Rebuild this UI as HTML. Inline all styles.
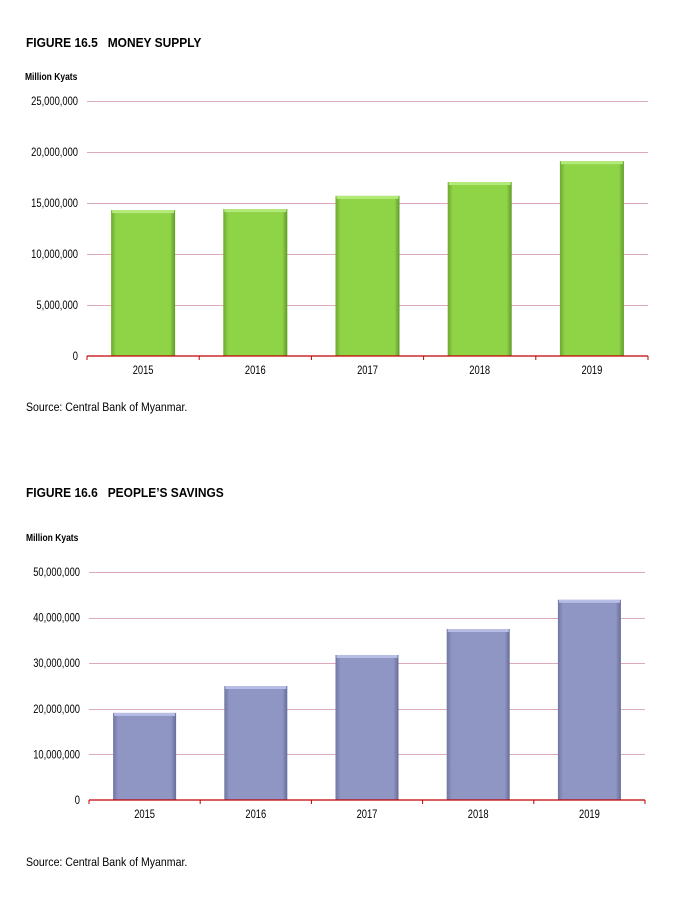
<!DOCTYPE html>
<html><head><meta charset="utf-8"><style>
body{margin:0;background:#fff;width:686px;height:911px;overflow:hidden;font-family:"Liberation Sans",sans-serif}
svg{position:absolute;left:0;top:0}
</style></head><body>
<svg id="s" width="686" height="911">
<defs>
<linearGradient id="gg" x1="0" x2="1"><stop offset="0" stop-color="#6fa830"/><stop offset="0.08" stop-color="#8fd447"/><stop offset="0.92" stop-color="#8fd447"/><stop offset="1" stop-color="#5f9a28"/></linearGradient>
<linearGradient id="pg" x1="0" x2="1"><stop offset="0" stop-color="#70769f"/><stop offset="0.08" stop-color="#9096c4"/><stop offset="0.92" stop-color="#9096c4"/><stop offset="1" stop-color="#666c98"/></linearGradient>
</defs>
<text x="26" y="47" font-size="13" font-weight="bold" transform="translate(26,0) scale(0.92,1) translate(-26,0)">FIGURE 16.5 &#160;&#160;MONEY SUPPLY</text>
<text x="25" y="80" font-size="10" font-weight="bold" transform="translate(25,0) scale(0.85,1) translate(-25,0)">Million Kyats</text>
<text x="26" y="411" font-size="12" transform="translate(26,0) scale(0.88,1) translate(-26,0)">Source: Central Bank of Myanmar.</text>
<text x="26" y="497" font-size="13" font-weight="bold" transform="translate(26,0) scale(0.92,1) translate(-26,0)">FIGURE 16.6 &#160;&#160;PEOPLE’S SAVINGS</text>
<text x="26" y="541" font-size="10" font-weight="bold" transform="translate(26,0) scale(0.85,1) translate(-26,0)">Million Kyats</text>
<text x="26" y="866" font-size="12" transform="translate(26,0) scale(0.88,1) translate(-26,0)">Source: Central Bank of Myanmar.</text>
</svg>
<script>
const categories = ["2015","2016","2017","2018","2019"];
const moneySupply = [14300000, 14400000, 15700000, 17060000, 19100000];
const savings = [19100000, 25000000, 31800000, 37500000, 43900000];
const ticks1 = [0, 5000000, 10000000, 15000000, 20000000, 25000000];
const ticks2 = [0, 10000000, 20000000, 30000000, 40000000, 50000000];
const NS="http://www.w3.org/2000/svg";
const svg=document.getElementById('s');
function mk(tag,attrs,parent){const e=document.createElementNS(NS,tag);for(const k in attrs)e.setAttribute(k,attrs[k]);(parent||svg).appendChild(e);return e;}
function fmt(v){return v.toLocaleString('en-US');}
function chart(cfg){
  const g=mk('g',{});
  
  
  const max=cfg.ticks[cfg.ticks.length-1];
  const y=v=>cfg.y0-(v/max)*(cfg.y0-cfg.yTop);
  const cw=(cfg.x1-cfg.x0)/categories.length;
  const x=i=>cfg.x0+cw*(i+0.5);
  cfg.ticks.forEach(t=>{
    if(t>0){const l=mk('line',{x1:cfg.x0,x2:cfg.x1,y1:Math.round(y(t))+0.5,y2:Math.round(y(t))+0.5,stroke:'#dcaabb','stroke-width':1},g);
    
    }
    const tx=mk('text',{x:cfg.x0-9,y:y(t)+4,'font-size':12,'text-anchor':'end',transform:`translate(${cfg.x0-9},0) scale(0.78,1) translate(${-(cfg.x0-9)},0)`},g);
    tx.textContent=fmt(t);
    
    
  });
  cfg.values.forEach((v,i)=>{
    const b=mk('rect',{x:x(i)-cfg.bw/2,y:y(v),width:cfg.bw,height:y(0)-y(v),fill:cfg.fill},g);
    
    
    const hl=mk('rect',{x:x(i)-cfg.bw/2+1,y:y(v),width:cfg.bw-2,height:3,fill:cfg.hl},g);
    
    
    const tl=mk('text',{x:x(i),y:cfg.y0+18,'font-size':12,'text-anchor':'middle',transform:`translate(${x(i)},0) scale(0.78,1) translate(${-x(i)},0)`},g);
    tl.textContent=categories[i];
    
    
  });
  const ax=mk('line',{x1:cfg.x0,x2:cfg.x1,y1:cfg.y0,y2:cfg.y0,stroke:'#c00000','stroke-width':1.3},g);
  
  
  for(let i=0;i<=categories.length;i++){
    const t=mk('line',{x1:cfg.x0+cw*i,x2:cfg.x0+cw*i,y1:cfg.y0,y2:cfg.y0+4,stroke:'#c00000','stroke-width':1},g);
    
    
  }
}
chart({name:'money-supply-chart',values:moneySupply,ticks:ticks1,x0:87,x1:648,y0:356,yTop:101,bw:64,fill:'url(#gg)',hl:'#b4ea7a'});
chart({name:'peoples-savings-chart',values:savings,ticks:ticks2,x0:89,x1:645,y0:800,yTop:572,bw:63,fill:'url(#pg)',hl:'#b8bde6'});
</script>
</body></html>
